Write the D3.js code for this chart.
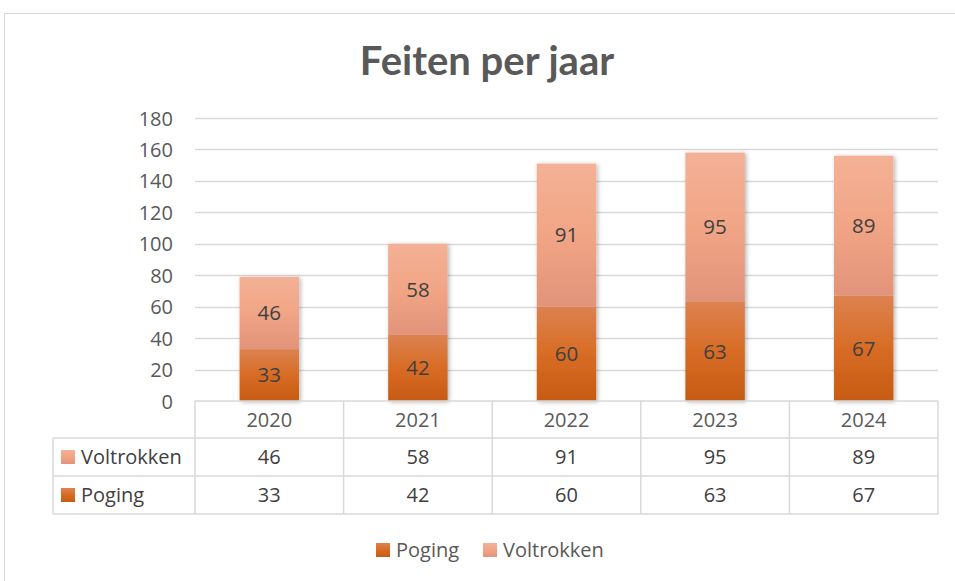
<!DOCTYPE html>
<html><head><meta charset="utf-8">
<script src="https://cdn.jsdelivr.net/npm/d3@7"></script>
<style>body{margin:0;background:#fff}svg{display:block}</style>
</head><body>
<svg id="c" width="955" height="581"></svg>
<script>
const years = ["2020","2021","2022","2023","2024"];
const poging = [33,42,60,63,67];
const voltrokken = [46,58,91,95,89];
const seriesNames = ["Poging","Voltrokken"];
const yTicks = [0,20,40,60,80,100,120,140,160,180];

(function(){
const svg = d3.select("#c");
const font = "'Open Sans', sans-serif";
const titleFont = "Lato, sans-serif";
const defs = svg.append("defs");
function grad(id, stops){
  const g = defs.append("linearGradient").attr("id",id).attr("x1",0).attr("y1",0).attr("x2",0).attr("y2",1);
  stops.forEach(s=>g.append("stop").attr("offset",s[0]).attr("stop-color",s[1]));
}
grad("gP",[[0,"#DC8250"],[0.5,"#D86C25"],[1,"#C65B14"]]);
grad("gV",[[0,"#F4B196"],[0.5,"#F1A585"],[1,"#E2937A"]]);
const f = defs.append("filter").attr("id","sh").attr("x","-20%").attr("y","-5%").attr("width","150%").attr("height","115%");
f.append("feDropShadow").attr("dx",1.5).attr("dy",1).attr("stdDeviation",2).attr("flood-color","#000").attr("flood-opacity",0.3);

svg.append("rect").attr("x",4.5).attr("y",13.5).attr("width",1000).attr("height",700)
  .attr("fill","#fff").attr("stroke","#D9D9D9");

svg.append("text").attr("x",487).attr("y",75).attr("text-anchor","middle")
  .attr("font-family",titleFont).attr("font-weight","bold").attr("font-size",40).attr("fill","#595959").text("Feiten per jaar");

const pl = 195, pr = 938, pt = 118, pb = 401;
const x = d3.scaleBand().domain(years).range([pl,pr]).paddingInner(0.6).paddingOuter(0.3);
const xs = d3.scaleBand().domain(years).range([pl,pr]);
const y = d3.scaleLinear().domain([0,180]).range([pb,pt]);

svg.append("g").selectAll("line").data(yTicks.slice(1)).join("line")
  .attr("x1",pl).attr("x2",pr).attr("y1",d=>Math.round(y(d))+0.5).attr("y2",d=>Math.round(y(d))+0.5)
  .attr("stroke","#D9D9D9").attr("stroke-width",1.5);

const yAxis = d3.axisLeft(y).tickValues(yTicks).tickSize(0).tickPadding(0);
const ga = svg.append("g").attr("transform",`translate(${pl-22},0)`).call(yAxis);
ga.select(".domain").remove();
ga.selectAll("text").attr("font-family",font).attr("font-size",20).attr("fill","#595959").attr("dy","0.35em");

const data = years.map((yr,i)=>({yr, p:poging[i], v:voltrokken[i]}));
const bars = svg.append("g").attr("filter","url(#sh)");
bars.selectAll("rect.p").data(data).join("rect").attr("class","p")
  .attr("x",d=>x(d.yr)).attr("width",x.bandwidth())
  .attr("y",d=>y(d.p)).attr("height",d=>y(0)-y(d.p)).attr("fill","url(#gP)");
bars.selectAll("rect.v").data(data).join("rect").attr("class","v")
  .attr("x",d=>x(d.yr)).attr("width",x.bandwidth())
  .attr("y",d=>y(d.p+d.v)).attr("height",d=>y(d.p)-y(d.p+d.v)).attr("fill","url(#gV)");

const lab = svg.append("g").attr("font-family",font).attr("font-size",20.5).attr("fill","#404040").attr("text-anchor","middle");
lab.selectAll("text.p").data(data).join("text").attr("class","p")
  .attr("x",d=>x(d.yr)+x.bandwidth()/2).attr("y",d=>y(d.p/2)).attr("dy","0.35em").text(d=>d.p);
lab.selectAll("text.v").data(data).join("text").attr("class","v")
  .attr("x",d=>x(d.yr)+x.bandwidth()/2).attr("y",d=>y(d.p+d.v/2)).attr("dy","0.35em").text(d=>d.v);

const tableLeft = 53, rowH = [401,438,476,514];
const tg = svg.append("g").attr("stroke","#D9D9D9").attr("stroke-width",1.5).attr("fill","none");
tg.append("line").attr("x1",pl).attr("x2",pr).attr("y1",rowH[0]).attr("y2",rowH[0]);
[1,2,3].forEach(i=>tg.append("line").attr("x1",tableLeft).attr("x2",pr).attr("y1",rowH[i]).attr("y2",rowH[i]));
tg.append("line").attr("x1",tableLeft).attr("x2",tableLeft).attr("y1",rowH[1]).attr("y2",rowH[3]);
years.forEach(yr=>tg.append("line").attr("x1",xs(yr)).attr("x2",xs(yr)).attr("y1",rowH[0]).attr("y2",rowH[3]));
tg.append("line").attr("x1",pr).attr("x2",pr).attr("y1",rowH[0]).attr("y2",rowH[3]);

const tt = svg.append("g").attr("font-family",font).attr("font-size",20).attr("fill","#404040");
tt.selectAll("text.yr").data(years).join("text").attr("class","yr").attr("text-anchor","middle")
  .attr("x",d=>xs(d)+xs.bandwidth()/2).attr("y",(rowH[0]+rowH[1])/2).attr("dy","0.35em").attr("fill","#595959").text(d=>d);
tt.selectAll("text.v").data(data).join("text").attr("class","v").attr("text-anchor","middle")
  .attr("x",d=>xs(d.yr)+xs.bandwidth()/2).attr("y",(rowH[1]+rowH[2])/2).attr("dy","0.35em").text(d=>d.v);
tt.selectAll("text.p").data(data).join("text").attr("class","p").attr("text-anchor","middle")
  .attr("x",d=>xs(d.yr)+xs.bandwidth()/2).attr("y",(rowH[2]+rowH[3])/2).attr("dy","0.35em").text(d=>d.p);
[["Voltrokken","url(#gV)",1],["Poging","url(#gP)",2]].forEach(([n,fill,r])=>{
  const cy=(rowH[r]+rowH[r+1])/2;
  svg.append("rect").attr("x",61).attr("y",cy-7).attr("width",14).attr("height",14).attr("fill",fill);
  svg.append("text").attr("x",81).attr("y",cy).attr("dy","0.35em").attr("font-family",font).attr("font-size",20).attr("fill","#404040").text(n);
});

const lg = svg.append("g").attr("font-family",font).attr("font-size",20).attr("fill","#595959");
const legendX = [376, 483];
seriesNames.forEach((n,i)=>{
  lg.append("rect").attr("x",legendX[i]).attr("y",543).attr("width",14).attr("height",14).attr("fill",i===0?"url(#gP)":"url(#gV)");
  lg.append("text").attr("x",legendX[i]+20).attr("y",550).attr("dy","0.35em").text(n);
});
})();
</script>
</body></html>
